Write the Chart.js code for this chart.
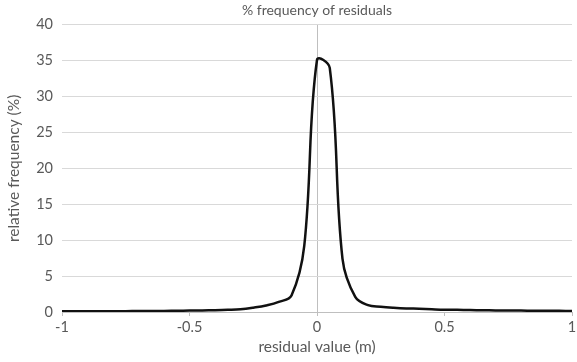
<!DOCTYPE html>
<html lang="en">
  <head>
    <meta charset="UTF-8" />
    <title>% frequency of residuals</title>
    <script src="https://cdn.jsdelivr.net/npm/chart.js@4.4.1/dist/chart.umd.min.js"></script>
    <style>
      html, body { margin: 0; padding: 0; background: #fff; }
      #wrap { width: 577px; height: 362px; }
    </style>
  </head>
  <body>
    <div id="wrap"><canvas id="chart" width="577" height="362"></canvas></div>

    <script>
      // residual bins (m) and % frequency
      const residuals = [
        -1, -0.95, -0.9, -0.85, -0.8, -0.75, -0.7, -0.65, -0.6, -0.55,
        -0.5, -0.45, -0.4, -0.35, -0.3, -0.25, -0.2, -0.15, -0.1, -0.05,
        0, 0.05, 0.1, 0.15, 0.2, 0.25, 0.3, 0.35, 0.4, 0.45,
        0.5, 0.55, 0.6, 0.65, 0.7, 0.75, 0.8, 0.85, 0.9, 0.95, 1
      ];
      const frequency = [
        0.1, 0.1, 0.1, 0.1, 0.12, 0.12, 0.13, 0.15, 0.15, 0.18,
        0.2, 0.22, 0.25, 0.3, 0.38, 0.6, 0.9, 1.4, 2.3, 9.2,
        35.1, 34.0, 7.4, 2.1, 0.95, 0.74, 0.6, 0.5, 0.45, 0.38,
        0.32, 0.3, 0.27, 0.25, 0.22, 0.2, 0.2, 0.18, 0.17, 0.16, 0.15
      ];
      const xTicks = [-1, -0.5, 0, 0.5, 1];
      const yTicks = [0, 5, 10, 15, 20, 25, 30, 35, 40];

      const grey = "#595959";
      const family = "Lato, 'Open Sans', sans-serif";
      const tickFont = { family: family, size: 14.5 };
      const titleFont = { family: family, size: 14, weight: "normal" };
      const axisFont = { family: family, size: 15.5 };

      new Chart(document.getElementById("chart"), {
        type: "line",
        data: {
          datasets: [
            {
              data: residuals.map((r, i) => ({ x: r, y: frequency[i] })),
              borderColor: "#111",
              borderWidth: 2.5,
              pointRadius: 0,
              tension: 0.38,
              fill: false,
            },
          ],
        },
        options: {
          responsive: false,
          animation: false,
          layout: { padding: { left: 0, right: 0, top: 0, bottom: 0 } },
          plugins: {
            legend: { display: false },
            tooltip: { enabled: false },
            title: {
              display: true,
              text: "% frequency of residuals",
              color: grey,
              font: titleFont,
              fullSize: false,
              padding: { top: 2, bottom: 6 },
            },
          },
          scales: {
            x: {
              type: "linear",
              min: -1,
              max: 1,
              afterBuildTicks: (s) => { s.ticks = xTicks.map((v) => ({ value: v })); },
              afterFit: (s) => {
                s.height = 50;
                s.paddingLeft = 0;
                s.paddingRight = 5;
              },
              ticks: {
                color: grey,
                font: tickFont,
                padding: 3,
                maxRotation: 0,
                callback: (v) => String(v),
              },
              grid: {
                color: (c) => (c.tick && c.tick.value === 0 ? "#bfbfbf" : "rgba(0,0,0,0)"),
                tickColor: "#bfbfbf",
                tickLength: 4,
              },
              border: { color: "#bfbfbf" },
              title: {
                display: true,
                text: "residual value (m)",
                color: grey,
                font: axisFont,
                padding: { top: 0, bottom: 6 },
              },
            },
            y: {
              min: 0,
              max: 40,
              afterBuildTicks: (s) => { s.ticks = yTicks.map((v) => ({ value: v })); },
              afterFit: (s) => { s.width = 62; },
              ticks: { color: grey, font: tickFont, padding: 9 },
              grid: { color: "#d9d9d9", drawTicks: false },
              border: { display: false },
              title: {
                display: true,
                text: "relative frequency (%)",
                color: grey,
                font: axisFont,
                padding: { top: 5, bottom: 0 },
              },
            },
          },
        },
      });
    </script>
  </body>
</html>
